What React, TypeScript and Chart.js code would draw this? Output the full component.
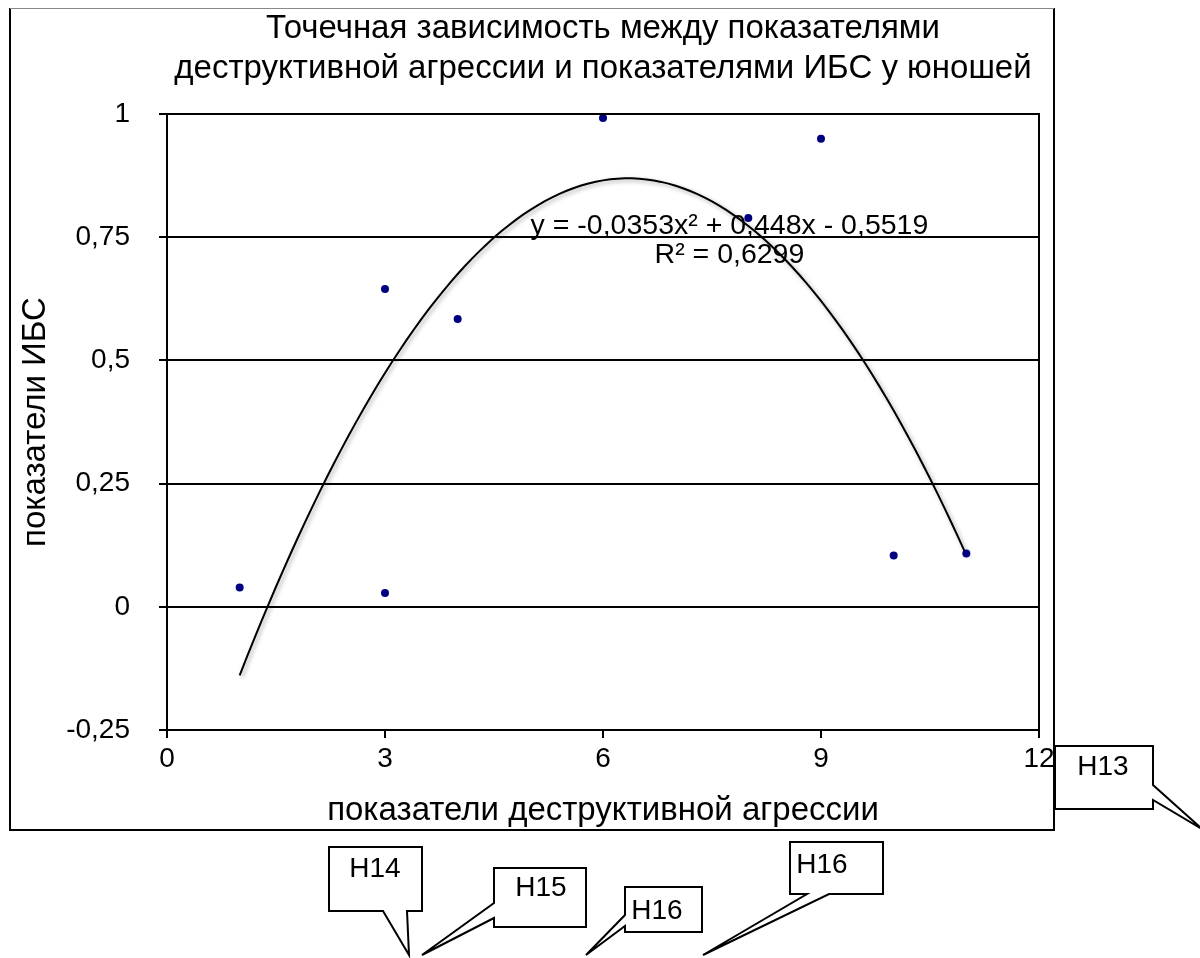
import React, { useEffect, useRef } from "react";
import { Chart, registerables } from "chart.js";

Chart.register(...registerables);

// ---- data ----
const X_VALUES = [1, 3, 3, 4, 6, 8, 9, 10, 11];
const Y_VALUES = [0.039, 0.645, 0.028, 0.584, 0.992, 0.789, 0.95, 0.104, 0.108];

const X_TICKS = [0, 3, 6, 9, 12];
const Y_TICKS = [-0.25, 0, 0.25, 0.5, 0.75, 1];

// polynomial trendline shown on the chart: y = A x^2 + B x + C
const TREND_A = -0.0353;
const TREND_B = 0.448;
const TREND_C = -0.5519;
const TREND_X_FROM = 1;
const TREND_X_TO = 11;

const TITLE_LINES = [
  "Точечная зависимость между показателями",
  "деструктивной агрессии и показателями ИБС у юношей",
];
const X_TITLE = "показатели деструктивной агрессии";
const Y_TITLE = "показатели ИБС";
const EQ_LINES = ["y = -0,0353x² + 0,448x - 0,5519", "R² = 0,6299"];

const CALLOUT_LABELS = ["H13", "H14", "H15", "H16", "H16"];

const FONT = "'Liberation Sans', Arial, Helvetica, sans-serif";

function fmt(v: number): string {
  return String(v).replace(".", ",");
}

function trendPoints() {
  const pts: { x: number; y: number }[] = [];
  const n = 100;
  for (let i = 0; i <= n; i++) {
    const x = TREND_X_FROM + ((TREND_X_TO - TREND_X_FROM) * i) / n;
    pts.push({ x, y: TREND_A * x * x + TREND_B * x + TREND_C });
  }
  return pts;
}

// callout shapes (page pixels): outline polygon and text anchor
const CALLOUT_SHAPES = [
  { pts: [[1055, 746], [1153, 746], [1153, 785], [1202, 829], [1153, 800], [1153, 809], [1055, 809]], tx: 1103, ty: 767 },
  { pts: [[329, 847], [422, 847], [422, 911], [407, 911], [409, 955], [383, 911], [329, 911]], tx: 375, ty: 869 },
  { pts: [[494, 868], [586, 868], [586, 927], [494, 927], [494, 918], [422, 955], [494, 903]], tx: 541, ty: 888 },
  { pts: [[625, 887], [702, 887], [702, 932], [625, 932], [625, 926], [586, 955], [625, 915]], tx: 657, ty: 911 },
  { pts: [[790, 842], [883, 842], [883, 894], [829, 894], [703, 955], [807, 894], [790, 894]], tx: 822, ty: 865 },
];

const decorPlugin = {
  id: "decor",
  beforeDatasetDraw(chart: any, args: any) {
    if (args.index === 1) {
      const ctx = chart.ctx;
      ctx.save();
      ctx.shadowColor = "rgba(0,0,0,0.35)";
      ctx.shadowBlur = 4;
      ctx.shadowOffsetX = 2;
      ctx.shadowOffsetY = 2;
    }
  },
  afterDatasetDraw(chart: any, args: any) {
    if (args.index === 1) chart.ctx.restore();
  },
  afterDraw(chart: any) {
    const ctx = chart.ctx;
    const ca = chart.chartArea;
    ctx.save();
    // plot area border
    ctx.strokeStyle = "#000";
    ctx.lineWidth = 2;
    ctx.strokeRect(ca.left, ca.top, ca.right - ca.left, ca.bottom - ca.top);

    // outer chart box
    ctx.beginPath();
    ctx.moveTo(10, 8);
    ctx.lineTo(10, 830);
    ctx.lineTo(1054, 830);
    ctx.lineTo(1054, 8);
    ctx.stroke();
    ctx.strokeStyle = "#888";
    ctx.lineWidth = 1;
    ctx.beginPath();
    ctx.moveTo(10, 8.5);
    ctx.lineTo(1054, 8.5);
    ctx.stroke();

    // title
    ctx.fillStyle = "#000";
    ctx.font = `33px ${FONT}`;
    ctx.textAlign = "center";
    ctx.textBaseline = "alphabetic";
    const cx = (ca.left + ca.right) / 2;
    ctx.fillText(TITLE_LINES[0], cx, 38);
    ctx.fillText(TITLE_LINES[1], cx, 78);

    // equation
    const xs = chart.scales.x;
    const ys = chart.scales.y;
    ctx.font = `28.5px ${FONT}`;
    const ex = xs.getPixelForValue(7.74);
    ctx.fillText(EQ_LINES[0], ex, ys.getPixelForValue(0.757));
    ctx.fillText(EQ_LINES[1], ex, ys.getPixelForValue(0.697));

    // callouts
    ctx.font = `28px ${FONT}`;
    ctx.textBaseline = "middle";
    CALLOUT_SHAPES.forEach((c, i) => {
      ctx.beginPath();
      c.pts.forEach((p, j) => (j === 0 ? ctx.moveTo(p[0], p[1]) : ctx.lineTo(p[0], p[1])));
      ctx.closePath();
      ctx.fillStyle = "#fff";
      ctx.fill();
      ctx.strokeStyle = "#000";
      ctx.lineWidth = 2;
      ctx.stroke();
      ctx.fillStyle = "#000";
      ctx.fillText(CALLOUT_LABELS[i], c.tx, c.ty);
    });
    ctx.restore();
  },
};

export default function App() {
  const ref = useRef<HTMLCanvasElement | null>(null);

  useEffect(() => {
    if (!ref.current) return;
    const chart = new Chart(ref.current, {
      type: "scatter",
      data: {
        datasets: [
          {
            label: "data",
            data: X_VALUES.map((x, i) => ({ x, y: Y_VALUES[i] })),
            backgroundColor: "#000080",
            borderColor: "#000080",
            pointRadius: 4,
            pointBorderWidth: 0,
          },
          {
            label: "trend",
            data: trendPoints(),
            showLine: true,
            borderColor: "#000",
            borderWidth: 2,
            pointRadius: 0,
            tension: 0,
            fill: false,
          } as any,
        ],
      },
      options: {
        responsive: false,
        animation: false,
        devicePixelRatio: 1,
        layout: { padding: { left: 10, top: 114, right: 161, bottom: 128 } },
        plugins: {
          legend: { display: false },
          tooltip: { enabled: false },
          title: { display: false },
        },
        scales: {
          x: {
            type: "linear",
            min: 0,
            max: 12,
            afterBuildTicks: (s: any) => {
              s.ticks = X_TICKS.map((v) => ({ value: v }));
            },
            afterFit: (s: any) => {
              s.height = 100;
            },
            grid: {
              drawOnChartArea: false,
              drawTicks: true,
              tickLength: 8,
              color: "#000",
              lineWidth: 2,
            },
            border: { display: true, color: "#000", width: 2 },
            ticks: {
              color: "#000",
              font: { family: FONT, size: 28 },
              padding: 4,
              maxRotation: 0,
              callback: (v: any) => fmt(Number(v)),
            },
            title: {
              display: true,
              text: X_TITLE,
              color: "#000",
              font: { family: FONT, size: 33 },
              padding: { top: 0, bottom: -1 },
            },
          },
          y: {
            type: "linear",
            min: -0.25,
            max: 1,
            afterBuildTicks: (s: any) => {
              s.ticks = Y_TICKS.map((v) => ({ value: v }));
            },
            afterFit: (s: any) => {
              s.width = 157;
            },
            grid: {
              drawTicks: true,
              tickLength: 8,
              color: "#000",
              lineWidth: 2,
            },
            border: { display: true, color: "#000", width: 2 },
            ticks: {
              color: "#000",
              font: { family: FONT, size: 28 },
              padding: 29,
              callback: (v: any) => fmt(Number(v)),
            },
            title: {
              display: true,
              text: Y_TITLE,
              color: "#000",
              font: { family: FONT, size: 33 },
              padding: { top: 6, bottom: 0 },
            },
          },
        },
      },
      plugins: [decorPlugin],
    });
    return () => chart.destroy();
  }, []);

  return (
    <div style={{ position: "fixed", left: 0, top: 0, width: 1200, height: 958, background: "#fff" }}>
      <canvas ref={ref} width={1200} height={958} style={{ display: "block" }} />
    </div>
  );
}
